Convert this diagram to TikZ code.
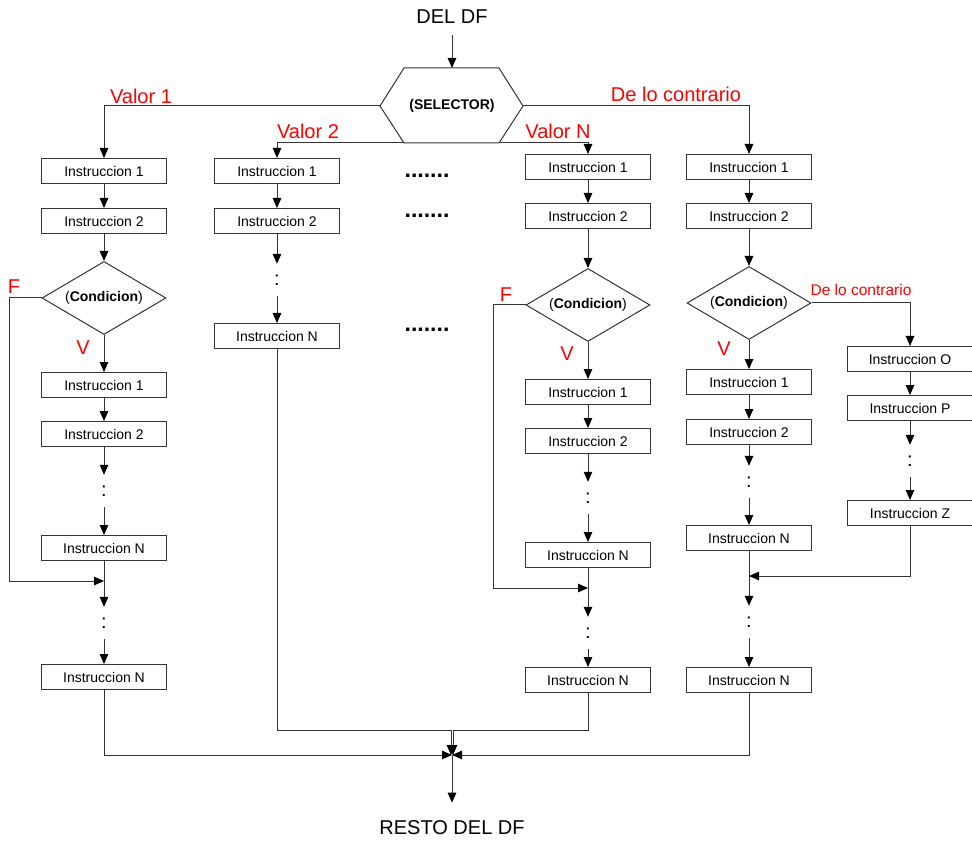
\documentclass[tikz,border=0pt]{standalone}
\usepackage{fontspec}
\setmainfont{Liberation Sans}
\usepackage{xcolor}
\usetikzlibrary{positioning, arrows.meta, calc, shapes.geometric}
\definecolor{gris}{HTML}{333333}
\definecolor{rojo}{HTML}{FF0000}

\tikzset{
  instr/.style={draw=gris, line width=1pt, minimum width=125pt, minimum height=25pt,
                inner sep=0pt, font=\fontsize{14}{16}\selectfont},
  cond/.style={diamond, aspect=1.7, draw=gris, line width=1pt, minimum width=124pt, minimum height=73pt,
               inner sep=0pt, font=\fontsize{14}{16}\selectfont},
  flujo/.style={draw=gris, line width=1pt, -{Triangle[length=10pt,width=8.5pt,color=black]}},
  salto/.style={inner sep=0pt, minimum height=32pt, font=\fontsize{20}{22}\selectfont},
  rotulo/.style={text=rojo, font=\fontsize{20}{22}\selectfont, inner sep=0pt},
  puntos/.style={font=\fontsize{23}{25}\selectfont\bfseries, inner sep=0pt},
  titulo/.style={font=\fontsize{20}{22}\selectfont, inner sep=0pt}
}

\begin{document}
\begin{tikzpicture}[x=1pt, y=-1pt]
  \useasboundingbox (0,0) rectangle (972,842);

  % selector
  \node[titulo] (inicio) at (452,17) {DEL DF};
  \coordinate (selN) at (452,68);
  \coordinate (selO) at (380,106);
  \coordinate (selE) at (523,106);
  \coordinate (selSO) at (404,143);
  \coordinate (selSE) at (499,143);
  \draw[gris, line width=1pt] (selO) -- (404,68) -- (499,68) -- (selE) -- (selSE) -- (selSO) -- cycle;
  \node[font=\fontsize{14}{16}\selectfont\bfseries] (sel) at (452,106) {(SELECTOR)};
  \draw[flujo] ([yshift=-11pt]inicio.south) -- (selN);

  % columna 1
  \node[instr] (a1) at (104,171) {Instruccion 1};
  \node[instr] (a2) at (104,221) {Instruccion 2};
  \node[cond]  (ac) at (104,298) {(\textbf{Condicion})};
  \node[instr] (a3) at (104,385) {Instruccion 1};
  \node[instr] (a4) at (104,434) {Instruccion 2};
  \node[salto] (ad1) at (104,491) {:};
  \node[instr] (a5) at (104,548) {Instruccion N};
  \node[salto] (ad2) at (104,623) {:};
  \node[instr] (a6) at (104,677) {Instruccion N};

  % columna 2
  \node[instr] (b1) at (277,171) {Instruccion 1};
  \node[instr] (b2) at (277,221) {Instruccion 2};
  \node[salto] (bd) at (277,280) {:};
  \node[instr] (b3) at (277,336) {Instruccion N};

  % columna 3
  \node[instr] (c1) at (588,167) {Instruccion 1};
  \node[instr] (c2) at (588,216) {Instruccion 2};
  \node[cond]  (cc) at (588,305) {(\textbf{Condicion})};
  \node[instr] (c3) at (588,392) {Instruccion 1};
  \node[instr] (c4) at (588,441) {Instruccion 2};
  \node[salto] (cd1) at (588,498) {:};
  \node[instr] (c5) at (588,555) {Instruccion N};
  \node[salto] (cd2) at (588,633) {:};
  \node[instr] (c6) at (588,680) {Instruccion N};

  % columna 4
  \node[instr] (d1) at (749,167) {Instruccion 1};
  \node[instr] (d2) at (749,216) {Instruccion 2};
  \node[cond]  (dc) at (749,303) {(\textbf{Condicion})};
  \node[instr] (d3) at (749,382) {Instruccion 1};
  \node[instr] (d4) at (749,432) {Instruccion 2};
  \node[salto] (dd1) at (749,482) {:};
  \node[instr] (d5) at (749,538) {Instruccion N};
  \node[salto] (dd2) at (749,622) {:};
  \node[instr] (d6) at (749,680) {Instruccion N};

  % columna 5
  \node[instr] (e1) at (910,359) {Instruccion O};
  \node[instr] (e2) at (910,408) {Instruccion P};
  \node[salto] (ed) at (910,461) {:};
  \node[instr] (e3) at (910,513) {Instruccion Z};

  % puntos entre columnas
  \node[puntos] (p1) at (427,176) {.......};
  \node[puntos] (p2) at (427,216) {.......};
  \node[puntos] (p3) at (427,330) {.......};

  % rotulos
  \node[rotulo] (v1) at (141,96) {Valor 1};
  \node[rotulo] (v2) at (308,131) {Valor 2};
  \node[rotulo] (vn) at (558,131) {Valor N};
  \node[rotulo] (dlc) at (676,94) {De lo contrario};
  \node[rotulo, font=\fontsize{15.5}{17}\selectfont] (dlc2) at (861,290) {De lo contrario};
  \node[rotulo] (fa) at (14,287) {F};
  \node[rotulo] (va) at (83,348) {V};
  \node[rotulo] (fc) at (506,295) {F};
  \node[rotulo] (vc) at (567,354) {V};
  \node[rotulo] (vd) at (724,349) {V};

  % salidas del selector
  \draw[flujo] (selO) -| (a1.north);
  \draw[flujo] (selSO) -| (b1.north);
  \draw[flujo] (selSE) -| (c1.north);
  \draw[flujo] (selE) -| (d1.north);

  % flechas de cada columna
  \foreach \i/\j in {a1/a2, a2/ac, ac/a3, a3/a4, a4/ad1, ad1/a5, a5/ad2, ad2/a6,
                     b1/b2, b2/bd, bd/b3,
                     c1/c2, c2/cc, cc/c3, c3/c4, c4/cd1, cd1/c5, c5/cd2, cd2/c6,
                     d1/d2, d2/dc, dc/d3, d3/d4, d4/dd1, dd1/d5, d5/dd2, dd2/d6,
                     e1/e2, e2/ed, ed/e3}
    \draw[flujo] (\i) -- (\j);

  % ramas falsas y de lo contrario
  \coordinate (aM) at (104,581);
  \coordinate (cM) at (588,588);
  \coordinate (dM) at (749,576);
  \draw[flujo] (ac.west) -| (9,581) -- (aM);
  \draw[flujo] (cc.west) -| (493,588) -- (cM);
  \draw[flujo] (dc.east) -| (e1.north);
  \draw[flujo] (e3.south) |- (dM);

  % union final
  \coordinate (fin) at (452,755);
  \coordinate (jB) at (451,730);
  \coordinate (jC) at (453,730);
  \draw[flujo] (a6.south) |- (fin);
  \draw[flujo] (d6.south) |- (fin);
  \draw[flujo] (b3.south) |- (jB) -- (jB |- fin);
  \draw[flujo] (c6.south) |- (jC) -- (jC |- fin);
  \node[titulo] (resto) at (452,828) {RESTO DEL DF};
  \draw[flujo] (fin) -- ([yshift=18pt]resto.north);
\end{tikzpicture}
\end{document}
